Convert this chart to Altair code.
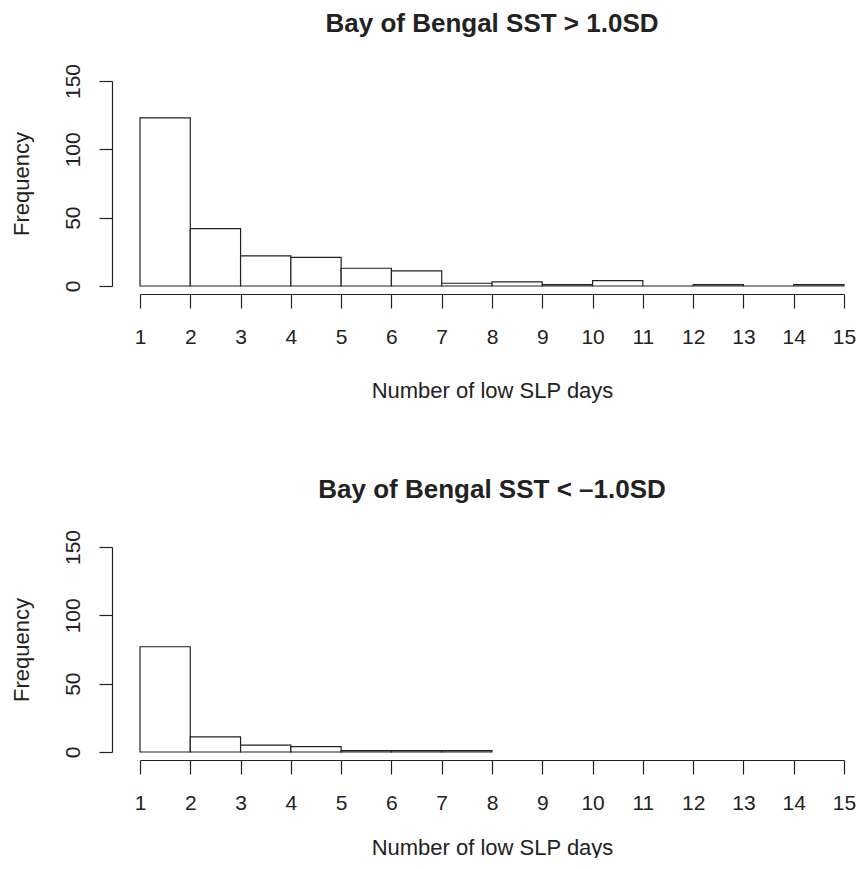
import altair as alt
import pandas as pd

# Histogram bin edges (number of low SLP days)
edges = list(range(1, 16))
x_ticks = list(range(1, 16))
y_ticks = [0, 50, 100, 150]

# Frequencies
counts_warm = [123, 42, 22, 21, 13, 11, 2, 3, 1, 4, 0, 1, 0, 1]
counts_cold = [77, 11, 5, 4, 1, 1, 1]

title_warm = "Bay of Bengal SST > 1.0SD"
title_cold = "Bay of Bengal SST < \u20131.0SD"
x_title = "Number of low SLP days"
y_title = "Frequency"

FONT = "Liberation Sans"
INK = "#222222"


def panel(counts, title, x_title_y):
    df = pd.DataFrame({
        "start": edges[:len(counts)],
        "end": edges[1:len(counts) + 1],
        "count": counts,
        "zero": [0] * len(counts),
    })
    return alt.Chart(df).mark_rect(
        fill="white", stroke=INK, strokeWidth=1.2
    ).encode(
        x=alt.X(
            "start:Q",
            scale=alt.Scale(domain=[1, 15], nice=False, zero=False),
            axis=alt.Axis(
                values=x_ticks, title=x_title, grid=False, offset=8,
                tickSize=14, tickWidth=1.2, tickColor=INK,
                domainColor=INK, domainWidth=1.2,
                labelFont=FONT, labelFontSize=21, labelColor=INK,
                labelPadding=18, labelFlush=False, labelOverlap=False,
                titleFont=FONT, titleFontSize=22, titleFontWeight="normal",
                titleColor=INK, titleBaseline="alphabetic", titleY=x_title_y,
            ),
        ),
        x2="end:Q",
        y=alt.Y(
            "count:Q",
            scale=alt.Scale(domain=[0, 150], nice=False),
            axis=alt.Axis(
                values=y_ticks, title=y_title, grid=False, offset=28,
                tickSize=13, tickWidth=1.2, tickColor=INK,
                domainColor=INK, domainWidth=1.2,
                labelFont=FONT, labelFontSize=21, labelColor=INK,
                labelAngle=-90, labelAlign="center", labelBaseline="alphabetic",
                labelPadding=20, labelFlush=False, labelOverlap=False,
                titleFont=FONT, titleFontSize=22, titleFontWeight="normal",
                titleColor=INK, titleAngle=-90, titleAlign="center",
                titleBaseline="alphabetic", titleX=-84, titleY=102.5,
            ),
        ),
        y2="zero:Q",
    ).properties(
        width=704, height=205,
        title=alt.TitleParams(
            title, font=FONT, fontSize=26, fontWeight="bold", color=INK,
            anchor="middle", frame="group", baseline="alphabetic", offset=5,
        ),
    )


chart = alt.vconcat(
    panel(counts_warm, title_warm, 103),
    panel(counts_cold, title_cold, 94),
    spacing=76,
).properties(
    padding={"left": 2, "top": 3, "right": 0, "bottom": 0},
).configure_view(strokeWidth=0)

chart.save("out.html", embed_options={"renderer": "svg", "actions": False})
